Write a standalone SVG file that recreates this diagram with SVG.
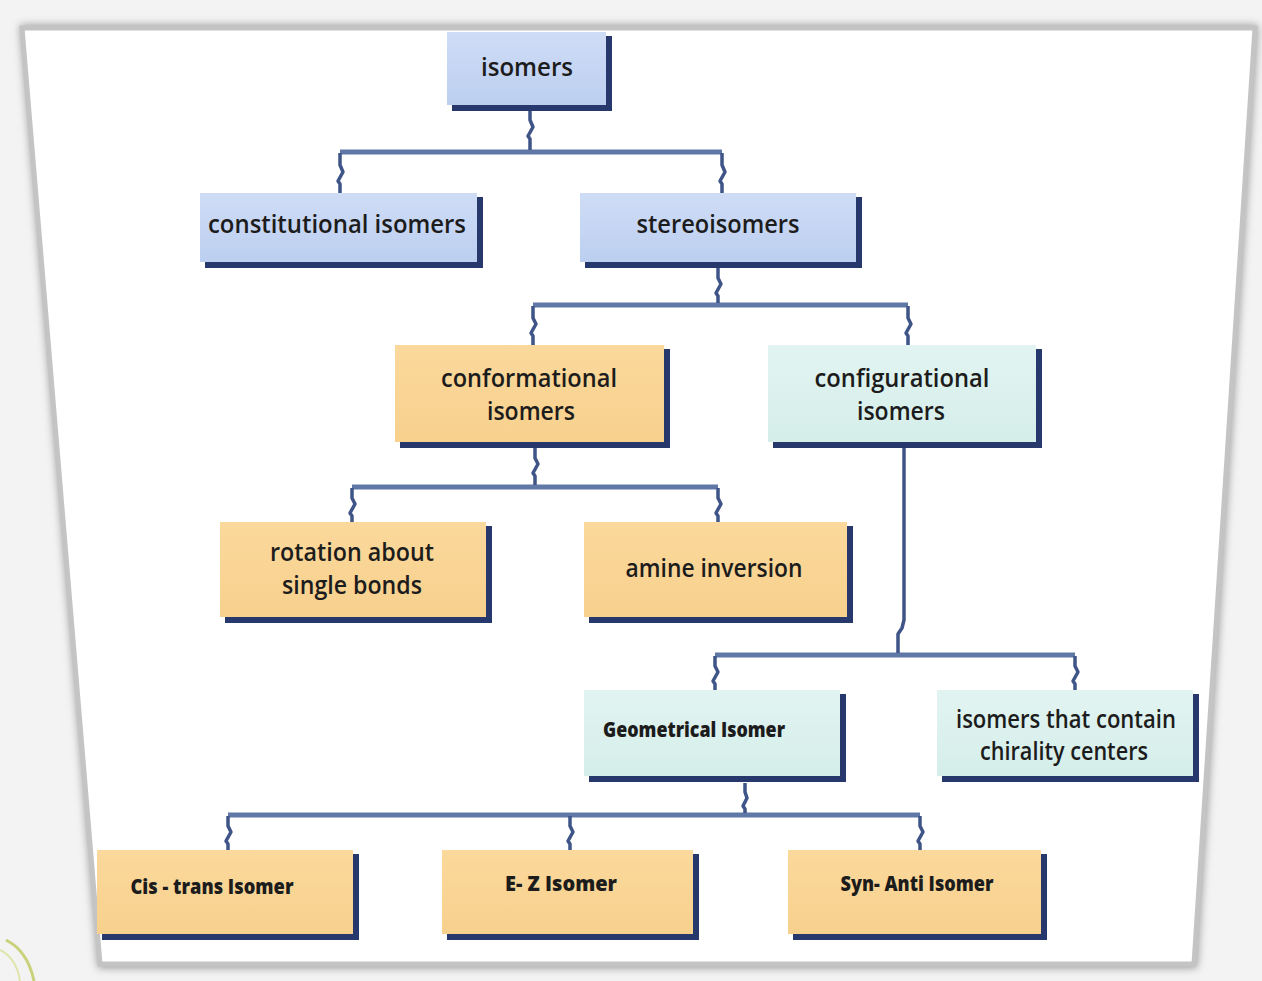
<svg xmlns="http://www.w3.org/2000/svg" width="1262" height="981" viewBox="0 0 1262 981">
<defs>
<linearGradient id="gBlue" x1="0" y1="0" x2="0" y2="1"><stop offset="0" stop-color="#cfdcf6"/><stop offset="1" stop-color="#bccff0"/></linearGradient>
<linearGradient id="gOrange" x1="0" y1="0" x2="0" y2="1"><stop offset="0" stop-color="#fbd99c"/><stop offset="1" stop-color="#f7d08d"/></linearGradient>
<linearGradient id="gCyan" x1="0" y1="0" x2="0" y2="1"><stop offset="0" stop-color="#e2f4f1"/><stop offset="1" stop-color="#d5eeea"/></linearGradient>
<filter id="soft" x="-5%" y="-5%" width="110%" height="110%"><feGaussianBlur stdDeviation="4"/></filter>
<style>
.sh{fill:#27386c}
.blue{fill:url(#gBlue)}
.orange{fill:url(#gOrange)}
.cyan{fill:url(#gCyan)}
.t{font-family:"Open Sans","DejaVu Sans",sans-serif;font-weight:600;font-size:25px;fill:#1c1c1c;text-anchor:middle}
.tb{font-family:"Open Sans","DejaVu Sans",sans-serif;font-weight:800;font-size:21px;fill:#1c1c1c;text-anchor:middle}
.bar{fill:none;stroke:#5f78a6;stroke-width:5;stroke-linecap:butt}
.drop{fill:none;stroke:#3f5588;stroke-width:3.5;stroke-linejoin:round}
</style>
</defs>
<rect width="1262" height="981" fill="#f3f3f3"/>
<!-- frame -->
<polygon points="20,25 1258,25 1197,968 98,968" fill="#9a9a9a" filter="url(#soft)"/>
<polygon points="22,28 1255,28 1194,964 100,964" fill="#ffffff" stroke="#c4c4c4" stroke-width="5"/>
<path d="M6,940 C22,948 30,962 34,981" fill="none" stroke="#c9d27a" stroke-width="3"/>
<path d="M0,950 C12,956 18,968 20,981" fill="none" stroke="#dfe4a8" stroke-width="2"/>

<g id="connectors">
<path class="bar" d="M340,152 H722"/>
<path class="drop" d="M530,110 V120 l3,7 l-5,9 l2,3 V150"/>
<path class="drop" d="M340,153 V165 l3,7 l-5,9 l2,3 V193"/>
<path class="drop" d="M722,153 V165 l3,7 l-5,9 l2,3 V193"/>

<path class="bar" d="M533,305 H908"/>
<path class="drop" d="M718,268 V278 l3,6 l-5,9 l2,3 V303"/>
<path class="drop" d="M533,306 V318 l3,6 l-5,9 l2,3 V345"/>
<path class="drop" d="M908,306 V318 l3,6 l-5,9 l2,3 V345"/>

<path class="bar" d="M352,487 H718"/>
<path class="drop" d="M535,448 V458 l3,6 l-5,9 l2,3 V485"/>
<path class="drop" d="M352,488 V498 l3,6 l-5,9 l2,3 V522"/>
<path class="drop" d="M718,488 V498 l3,6 l-5,9 l2,3 V522"/>

<path class="bar" d="M715,655 H1075"/>
<path class="drop" d="M904,448 V620 l-2,8 l-4,6 V653"/>
<path class="drop" d="M715,656 V666 l3,6 l-5,9 l2,3 V690"/>
<path class="drop" d="M1075,656 V666 l3,6 l-5,9 l2,3 V690"/>

<path class="bar" d="M228,815 H920"/>
<path class="drop" d="M745,783 V792 l2,6 l-4,8 l2,3 V813"/>
<path class="drop" d="M228,816 V826 l3,6 l-5,9 l2,3 V850"/>
<path class="drop" d="M570,816 V826 l3,6 l-5,9 l2,3 V850"/>
<path class="drop" d="M920,816 V826 l3,6 l-5,9 l2,3 V850"/>
</g>

<g id="isomers">
<rect class="sh" x="452" y="36" width="160" height="75"/>
<rect class="blue" x="447" y="32" width="159" height="73"/>
<text class="t" x="527" y="76" textLength="92" lengthAdjust="spacingAndGlyphs">isomers</text>
</g>
<g id="constitutional">
<rect class="sh" x="205" y="197" width="278" height="71"/>
<rect class="blue" x="200" y="193" width="277" height="69"/>
<text class="t" x="337" y="233" textLength="258" lengthAdjust="spacingAndGlyphs">constitutional isomers</text>
</g>
<g id="stereoisomers">
<rect class="sh" x="585" y="197" width="277" height="71"/>
<rect class="blue" x="580" y="193" width="276" height="69"/>
<text class="t" x="718" y="233" textLength="163" lengthAdjust="spacingAndGlyphs">stereoisomers</text>
</g>
<g id="conformational">
<rect class="sh" x="400" y="349" width="270" height="99"/>
<rect class="orange" x="395" y="345" width="269" height="97"/>
<text class="t" x="529" y="387" textLength="176" lengthAdjust="spacingAndGlyphs">conformational</text>
<text class="t" x="531" y="420" textLength="88" lengthAdjust="spacingAndGlyphs">isomers</text>
</g>
<g id="configurational">
<rect class="sh" x="773" y="349" width="269" height="99"/>
<rect class="cyan" x="768" y="345" width="268" height="97"/>
<text class="t" x="902" y="387" textLength="175" lengthAdjust="spacingAndGlyphs">configurational</text>
<text class="t" x="901" y="420" textLength="88" lengthAdjust="spacingAndGlyphs">isomers</text>
</g>
<g id="rotation">
<rect class="sh" x="225" y="526" width="267" height="97"/>
<rect class="orange" x="220" y="522" width="266" height="95"/>
<text class="t" x="352" y="561" textLength="164" lengthAdjust="spacingAndGlyphs">rotation about</text>
<text class="t" x="352" y="594" textLength="140" lengthAdjust="spacingAndGlyphs">single bonds</text>
</g>
<g id="amine">
<rect class="sh" x="589" y="526" width="264" height="97"/>
<rect class="orange" x="584" y="522" width="263" height="95"/>
<text class="t" x="714" y="577" textLength="177" lengthAdjust="spacingAndGlyphs">amine inversion</text>
</g>
<g id="geometrical">
<rect class="sh" x="589" y="694" width="257" height="88"/>
<rect class="cyan" x="584" y="690" width="256" height="86"/>
<text class="tb" x="694" y="737" textLength="182" lengthAdjust="spacingAndGlyphs">Geometrical Isomer</text>
</g>
<g id="chirality">
<rect class="sh" x="942" y="694" width="257" height="88"/>
<rect class="cyan" x="937" y="690" width="256" height="86"/>
<text class="t" x="1066" y="728" textLength="220" lengthAdjust="spacingAndGlyphs">isomers that contain</text>
<text class="t" x="1064" y="760" textLength="168" lengthAdjust="spacingAndGlyphs">chirality centers</text>
</g>
<g id="cistrans">
<rect class="sh" x="102" y="854" width="257" height="86"/>
<rect class="orange" x="97" y="850" width="256" height="84"/>
<text class="tb" x="212" y="894" textLength="163" lengthAdjust="spacingAndGlyphs">Cis - trans Isomer</text>
</g>
<g id="ez">
<rect class="sh" x="447" y="854" width="252" height="86"/>
<rect class="orange" x="442" y="850" width="251" height="84"/>
<text class="tb" x="561" y="891" textLength="112" lengthAdjust="spacingAndGlyphs">E- Z Isomer</text>
</g>
<g id="synanti">
<rect class="sh" x="793" y="854" width="254" height="86"/>
<rect class="orange" x="788" y="850" width="253" height="84"/>
<text class="tb" x="917" y="891" textLength="153" lengthAdjust="spacingAndGlyphs">Syn- Anti Isomer</text>
</g>
</svg>
